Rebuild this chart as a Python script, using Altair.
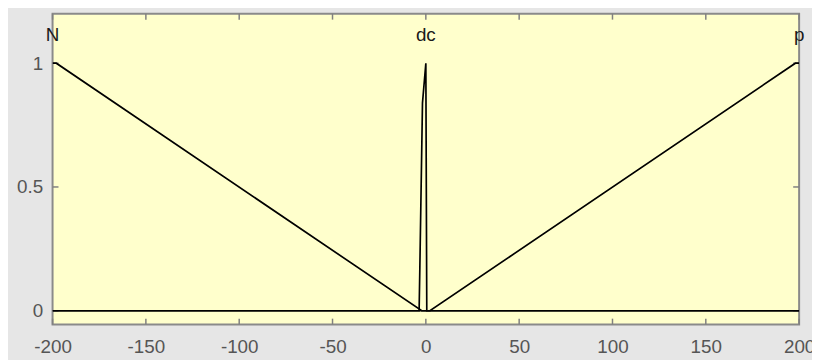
import altair as alt
import pandas as pd

# membership functions (x, degree)
n_x = [-200, -198, -2.2, 200]
n_y = [1.0, 1.0, 0.0, 0.0]
dc_x = [-200, -3.6, -3.2, -1.8, 0, 0.5, 200]
dc_y = [0.0, 0.0, 0.18, 0.84, 1.0, 0.0, 0.0]
p_x = [-200, 2.2, 198, 200]
p_y = [0.0, 0.0, 1.0, 1.0]

mf_names = ["N", "dc", "p"]
mf_label_x = [-200, 0, 200]
mf_label_y = [1.115, 1.115, 1.115]

x_ticks = [-200, -150, -100, -50, 0, 50, 100, 150, 200]
y_ticks = [0, 0.5, 1]

rows = []
for name, xs, ys in [("N", n_x, n_y), ("dc", dc_x, dc_y), ("p", p_x, p_y)]:
    for i, (a, b) in enumerate(zip(xs, ys)):
        rows.append({"mf": name, "x": a, "y": b, "i": i})
lines_df = pd.DataFrame(rows)
labels_df = pd.DataFrame({"name": mf_names, "x": mf_label_x, "y": mf_label_y})
xt_df = pd.DataFrame({"v": x_ticks})
yt_df = pd.DataFrame({"v": y_ticks})

W, H = 754, 314
xscale = alt.Scale(domain=[-200, 200], nice=False, zero=False)
yscale = alt.Scale(domain=[-0.056, 1.2], nice=False, zero=False)

xaxis = alt.Axis(values=x_ticks, title=None, grid=False, domain=False, ticks=False, tickSize=0,
                 labelExpr="datum.value + ''",
                 labelFontSize=19, labelFont="Liberation Sans", labelColor="#555555",
                 labelPadding=13, labelFlush=False, labelOverlap=False, labelBound=False)
yaxis = alt.Axis(values=y_ticks, title=None, grid=False, domain=False, ticks=False, tickSize=0,
                 labelExpr="datum.value + ''",
                 labelFontSize=19, labelFont="Liberation Sans", labelColor="#555555",
                 labelPadding=10, labelOverlap=False, labelBound=False, labelFlush=False)

lines = alt.Chart(lines_df).mark_line(color="black", strokeWidth=1.7, clip=True).encode(
    x=alt.X("x:Q", scale=xscale, axis=xaxis),
    y=alt.Y("y:Q", scale=yscale, axis=yaxis),
    detail="mf:N",
    order="i:Q",
)

labels = alt.Chart(labels_df).mark_text(
    fontSize=19, font="Liberation Sans", color="#1a1a1a", baseline="middle", align="center"
).encode(x=alt.X("x:Q", scale=xscale), y=alt.Y("y:Q", scale=yscale), text="name:N")

tick_style = dict(color="#808080", strokeWidth=1.5)
bottom_ticks = alt.Chart(xt_df).mark_rule(**tick_style).encode(
    x=alt.X("v:Q", scale=xscale), y=alt.value(H), y2=alt.value(H - 6))
top_ticks = alt.Chart(xt_df).mark_rule(**tick_style).encode(
    x=alt.X("v:Q", scale=xscale), y=alt.value(0), y2=alt.value(6))
left_ticks = alt.Chart(yt_df).mark_rule(**tick_style).encode(
    y=alt.Y("v:Q", scale=yscale), x=alt.value(0), x2=alt.value(6))
right_ticks = alt.Chart(yt_df).mark_rule(**tick_style).encode(
    y=alt.Y("v:Q", scale=yscale), x=alt.value(W), x2=alt.value(W - 6))

chart = alt.layer(bottom_ticks, top_ticks, left_ticks, right_ticks, lines, labels).properties(
    width=W, height=H,
    autosize=alt.AutoSizeParams(type="none"),
    padding={"left": 45, "top": 4, "right": 13, "bottom": 34},
    background="#e6e6e6",
).configure_view(fill="#ffffcc", stroke="#8a8a8a", strokeWidth=2)

chart.save("out.html", embed_options={"renderer": "svg", "actions": False})
